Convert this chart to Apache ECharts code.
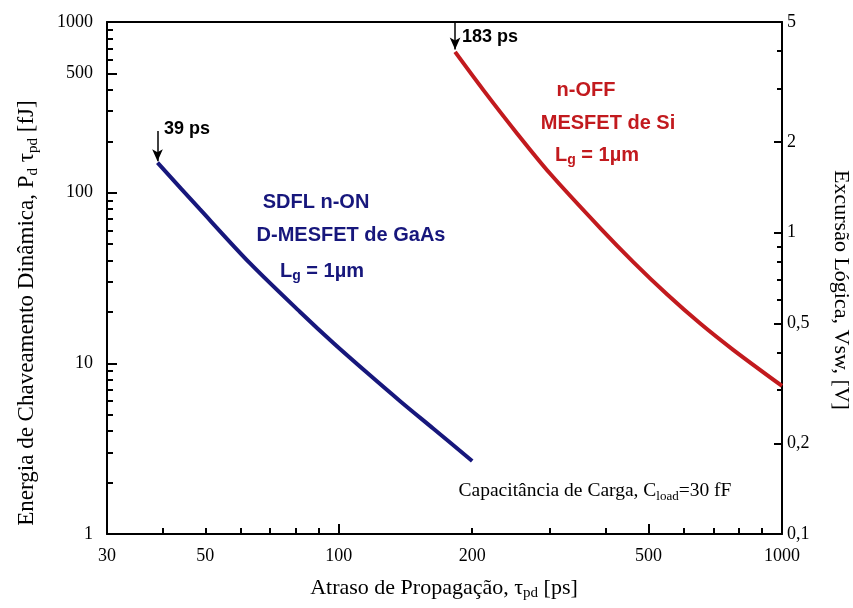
<!DOCTYPE html>
<html><head><meta charset="utf-8">
<script src="https://cdn.jsdelivr.net/npm/echarts@6/dist/echarts.min.js"></script>
<style>html,body{margin:0;padding:0;background:#fff}#c{width:853px;height:608px}</style>
</head><body><div id="c"></div>
<script>
// Data
const gaasDelay = [39, 48.6, 63.1, 81.8, 97.1, 115.9, 137.6, 163.3, 200];          // ps
const gaasEnergy = [150, 80, 38.5, 20, 13.2, 8.8, 6.0, 4.15, 2.68];                 // fJ
const siDelay = [183, 212, 253, 300, 389, 462, 551, 654, 776, 1000];                // ps
const siEnergy = [668, 399, 221, 129, 62, 39.2, 25.3, 17.1, 12.0, 7.37];            // fJ
const xTickLabels = [30, 50, 100, 200, 500, 1000];
const xMajorTicks = [100, 500];
const xMinorTicks = [40, 50, 60, 70, 80, 90, 200, 300, 400, 600, 700, 800, 900];
const yLeftLabels = [1, 10, 100, 500, 1000];
const yLeftMajorTicks = [10, 100, 500];
const yLeftMinorTicks = [2,3,4,5,6,7,8,9,20,30,40,50,60,70,80,90,200,300,400,600,700,800,900];
const yRightLabels = [0.1, 0.2, 0.5, 1, 2, 5];
const yRightMajorTicks = [0.2, 0.5, 1, 2];
const yRightMinorTicks = [0.3, 0.4, 0.6, 0.7, 0.8, 0.9, 3, 4];
const gaasArrow = [[39, 230], [39, 153]];
const siArrow = [[183, 1000], [183, 690]];

const SERIF = '"Liberation Serif","Times New Roman",serif';
const SANS = '"Liberation Sans",Arial,sans-serif';
const BLUE = '#17177c';
const RED = '#c21a1e';

const chart = echarts.init(document.getElementById('c'), null, {renderer: 'canvas'});
const lbl = {fontFamily: SERIF, fontSize: 18, color: '#000'};
function fmtPlain(v){ return String(+(+v).toPrecision(4)); }
function fmtComma(v){ return String(+(+v).toPrecision(3)).replace('.', ','); }

const xBase = {type: 'log', logBase: 10, min: 30, max: 1000, splitLine: {show: false}};
const yLBase = {type: 'log', logBase: 10, min: 1, max: 1000, splitLine: {show: false}};
const yRBase = {type: 'log', logBase: 10, min: 0.1, max: 5, splitLine: {show: false}};
const blackLine = {color: '#000', width: 2};

const option = {
  animation: false,
  backgroundColor: '#fff',
  grid: {left: 107, top: 22, width: 675, height: 512, containLabel: false},
  xAxis: [
    Object.assign({}, xBase, {position: 'bottom',
      axisLine: {show: true, lineStyle: blackLine},
      axisTick: {show: true, inside: true, length: 10, customValues: xMajorTicks, lineStyle: blackLine},
      axisLabel: Object.assign({customValues: xTickLabels, margin: 13, formatter: fmtPlain}, lbl)}),
    Object.assign({}, xBase, {position: 'bottom',
      axisLine: {show: false},
      axisTick: {show: true, inside: true, length: 6, customValues: xMinorTicks, lineStyle: blackLine},
      axisLabel: {show: false}}),
    Object.assign({}, xBase, {position: 'top',
      axisLine: {show: true, lineStyle: blackLine},
      axisTick: {show: false}, axisLabel: {show: false}})
  ],
  yAxis: [
    Object.assign({}, yLBase, {position: 'left',
      axisLine: {show: true, lineStyle: blackLine},
      axisTick: {show: true, inside: true, length: 10, customValues: yLeftMajorTicks, lineStyle: blackLine},
      axisLabel: Object.assign({customValues: yLeftLabels, margin: 14, formatter: fmtPlain}, lbl)}),
    Object.assign({}, yLBase, {position: 'left',
      axisLine: {show: false},
      axisTick: {show: true, inside: true, length: 6, customValues: yLeftMinorTicks, lineStyle: blackLine},
      axisLabel: {show: false}}),
    Object.assign({}, yRBase, {position: 'right',
      axisLine: {show: true, lineStyle: blackLine},
      axisTick: {show: true, inside: true, length: 8, customValues: yRightMajorTicks, lineStyle: blackLine},
      axisLabel: Object.assign({customValues: yRightLabels, margin: 5, formatter: fmtComma}, lbl)}),
    Object.assign({}, yRBase, {position: 'right',
      axisLine: {show: false},
      axisTick: {show: true, inside: true, length: 5, customValues: yRightMinorTicks, lineStyle: blackLine},
      axisLabel: {show: false}})
  ],
  series: [
    {type: 'line', name: 'GaAs', xAxisIndex: 0, yAxisIndex: 0, smooth: 0.3, showSymbol: false,
     data: gaasDelay.map((x, i) => [x, gaasEnergy[i]]),
     lineStyle: {color: BLUE, width: 4}, itemStyle: {color: BLUE},
     markLine: {silent: true, symbol: ['none', 'arrow'], symbolSize: [8, 12], label: {show: false},
       lineStyle: {color: '#000', width: 1.5, type: 'solid'},
       data: [[{coord: gaasArrow[0]}, {coord: gaasArrow[1]}]]}},
    {type: 'line', name: 'Si', xAxisIndex: 0, yAxisIndex: 0, smooth: 0.3, showSymbol: false,
     data: siDelay.map((x, i) => [x, siEnergy[i]]),
     lineStyle: {color: RED, width: 4}, itemStyle: {color: RED},
     markLine: {silent: true, symbol: ['none', 'arrow'], symbolSize: [8, 12], label: {show: false},
       lineStyle: {color: '#000', width: 1.5, type: 'solid'},
       data: [[{coord: siArrow[0]}, {coord: siArrow[1]}]]}}
  ],
  graphic: []
};
chart.setOption(option);

function subRich(size, subSize, color, family, weight){
  return {
    n: {fontSize: size, fontFamily: family, fill: color, fontWeight: weight, verticalAlign: 'top', lineHeight: size + 2},
    s: {fontSize: subSize, fontFamily: family, fill: color, fontWeight: weight, verticalAlign: 'bottom', lineHeight: subSize + 2}
  };
}
function txt(x, y, text, opts){
  return {type: 'text', x: x, y: y, silent: true, style: Object.assign({text: text, fill: '#000', align: 'center', verticalAlign: 'middle'}, opts || {})};
}
function richTxt(x, y, text, size, subSize, color, family, weight, rot){
  return {type: 'text', x: x, y: y, rotation: rot || 0, silent: true, style: {
    text: text, align: 'center', verticalAlign: 'middle', lineHeight: size + 7,
    rich: subRich(size, subSize, color, family, weight)}};
}
const g = [];
// axis titles
g.push(richTxt(444, 589, '{n|Atraso de Propagação, τ}{s|pd}{n| [ps]}', 22, 15, '#000', SERIF, 'normal'));
g.push(richTxt(28, 313, '{n|Energia de Chaveamento Dinâmica, P}{s|d}{n| τ}{s|pd}{n| [fJ]}', 23, 15, '#000', SERIF, 'normal', Math.PI / 2));
g.push(txt(841, 290, 'Excursão Lógica, Vsw, [V]', {font: '22px ' + SERIF}));
g[g.length - 1].rotation = -Math.PI / 2;
// annotations
g.push(txt(187, 129, '39 ps', {font: 'bold 18px ' + SANS}));
g.push(txt(490, 37, '183 ps', {font: 'bold 18px ' + SANS}));
g.push(txt(316, 202, 'SDFL n-ON', {font: 'bold 20px ' + SANS, fill: BLUE}));
g.push(txt(351, 235, 'D-MESFET de GaAs', {font: 'bold 20px ' + SANS, fill: BLUE}));
g.push(richTxt(322, 272, '{n|L}{s|g}{n| = 1µm}', 20, 14, BLUE, SANS, 'bold'));
g.push(txt(586, 90, 'n-OFF', {font: 'bold 20px ' + SANS, fill: RED}));
g.push(txt(608, 123, 'MESFET de Si', {font: 'bold 20px ' + SANS, fill: RED}));
g.push(richTxt(597, 156, '{n|L}{s|g}{n| = 1µm}', 20, 14, RED, SANS, 'bold'));
g.push(richTxt(595, 492, '{n|Capacitância de Carga, C}{s|load}{n|=30 fF}', 19.5, 13, '#000', SERIF, 'normal'));
chart.setOption({graphic: g});
</script>
</body></html>
